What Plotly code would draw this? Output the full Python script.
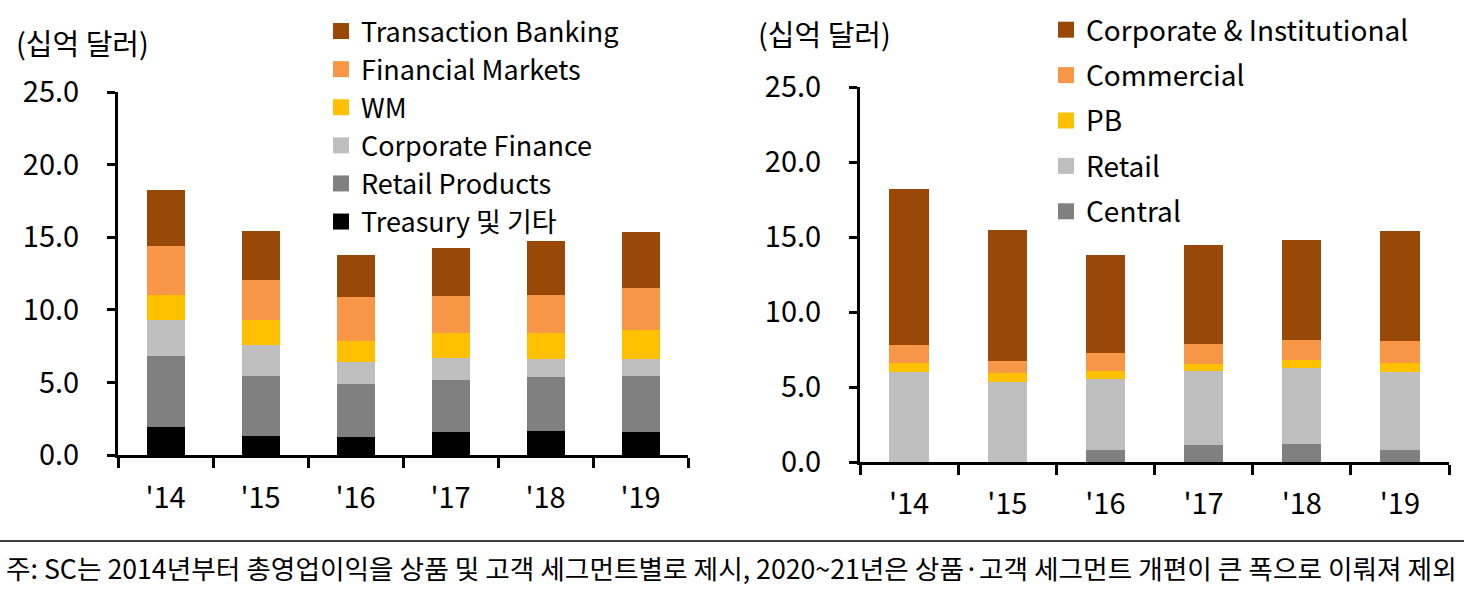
import plotly.graph_objects as go

W, H = 1464, 591
FONT = "Noto Sans CJK KR"

years = ["'14", "'15", "'16", "'17", "'18", "'19"]

# left chart: product segments, bottom -> top (US$ bn)
treasury = [1.93, 1.29, 1.24, 1.59, 1.63, 1.59]
retail_products = [4.88, 4.14, 3.66, 3.59, 3.75, 3.86]
corporate_finance = [2.51, 2.14, 1.50, 1.47, 1.20, 1.13]
wm = [1.72, 1.75, 1.44, 1.77, 1.84, 2.02]
financial_markets = [3.36, 2.76, 3.04, 2.53, 2.60, 2.93]
transaction_banking = [3.84, 3.36, 2.92, 3.34, 3.70, 3.86]

# right chart: client segments, bottom -> top (US$ bn)
central = [0.0, 0.0, 0.80, 1.14, 1.20, 0.80]
retail = [5.98, 5.35, 4.73, 4.92, 5.06, 5.22]
pb = [0.62, 0.56, 0.51, 0.49, 0.52, 0.60]
commercial = [1.20, 0.82, 1.25, 1.34, 1.38, 1.45]
corp_inst = [10.43, 8.71, 6.51, 6.55, 6.62, 7.33]

left_series = [
    ("Treasury 및 기타", treasury, "#000000"),
    ("Retail Products", retail_products, "#808080"),
    ("Corporate Finance", corporate_finance, "#BFBFBF"),
    ("WM", wm, "#FFC000"),
    ("Financial Markets", financial_markets, "#F79646"),
    ("Transaction Banking", transaction_banking, "#984807"),
]
right_series = [
    ("Central", central, "#808080"),
    ("Retail", retail, "#BFBFBF"),
    ("PB", pb, "#FFC000"),
    ("Commercial", commercial, "#F79646"),
    ("Corporate & Institutional", corp_inst, "#984807"),
]

fig = go.Figure()

def add_stack(series, xa, ya, leg):
    for name, vals, col in series:
        fig.add_trace(go.Bar(x=years, y=vals, name=name, marker=dict(color=col, line=dict(width=0)),
                             xaxis=xa, yaxis=ya, showlegend=False))
    # legend-only markers, top of stack first (bigger square than bar icon)
    for name, vals, col in reversed(series):
        fig.add_trace(go.Scatter(x=[None], y=[None], mode="markers", name=name,
                                 marker=dict(symbol="square", size=16, color=col),
                                 xaxis=xa, yaxis=ya, legend=leg, legendgroup=leg + name))

add_stack(left_series, "x", "y", "legend")
add_stack(right_series, "x2", "y2", "legend2")

def px_x(v):
    return v / W

def px_y(v):
    return 1 - v / H

xcommon = dict(type="category", showline=True, linewidth=3, linecolor="black",
               ticks="outside", tickson="boundaries", ticklen=10, tickwidth=3, tickcolor="black",
               showgrid=False, range=[-0.5, 5.5], tickfont=dict(size=29, color="black"),
               automargin=False)
ycommon = dict(range=[0, 25], dtick=5, tickformat=".1f", showline=True, linewidth=3, linecolor="black",
               ticks="outside", ticklen=8, tickwidth=3, tickcolor="black", showgrid=False,
               zeroline=False, tickfont=dict(size=29, color="black"), ticklabelstandoff=22,
               automargin=False)

fig.update_layout(
    width=W, height=H,
    margin=dict(l=0, r=0, t=0, b=0, autoexpand=False),
    paper_bgcolor="white", plot_bgcolor="white",
    font=dict(family=FONT, color="black"),
    barmode="stack", bargap=0.6,
    xaxis=dict(xcommon, domain=[px_x(118), px_x(688)], anchor="y", ticklabelstandoff=15),
    yaxis=dict(ycommon, domain=[px_y(455), px_y(92)], anchor="x"),
    xaxis2=dict(xcommon, domain=[px_x(860), px_x(1449)], anchor="y2", ticklabelstandoff=14),
    yaxis2=dict(ycommon, domain=[px_y(462), px_y(87)], anchor="x2"),
    legend=dict(x=px_x(321), y=px_y(7), xanchor="left", yanchor="top",
                traceorder="grouped", tracegroupgap=0,
                font=dict(size=27), bgcolor="rgba(0,0,0,0)", itemwidth=30),
    legend2=dict(x=px_x(1046), y=px_y(5), xanchor="left", yanchor="top",
                 traceorder="grouped", tracegroupgap=6,
                 font=dict(size=28), bgcolor="rgba(0,0,0,0)", itemwidth=30),
)

# unit labels
fig.add_annotation(text="(십억 달러)", xref="paper", yref="paper", x=px_x(14), y=px_y(42),
                   xanchor="left", yanchor="middle", showarrow=False, font=dict(size=29))
fig.add_annotation(text="(십억 달러)", xref="paper", yref="paper", x=px_x(756), y=px_y(33),
                   xanchor="left", yanchor="middle", showarrow=False, font=dict(size=29))

# footnote
fig.add_shape(type="line", xref="paper", yref="paper", x0=0, x1=1, y0=px_y(541), y1=px_y(541),
              line=dict(color="black", width=1.5))
fig.add_annotation(text="주: SC는 2014년부터 총영업이익을 상품 및 고객 세그먼트별로 제시, 2020~21년은 상품·고객 세그먼트 개편이 큰 폭으로 이뤄져 제외",
                   xref="paper", yref="paper", x=px_x(4), y=px_y(567), xanchor="left", yanchor="middle",
                   showarrow=False, font=dict(size=26.7))

fig.write_html("out.html", config={"displayModeBar": False},
               post_script="document.body.style.margin='0';")
